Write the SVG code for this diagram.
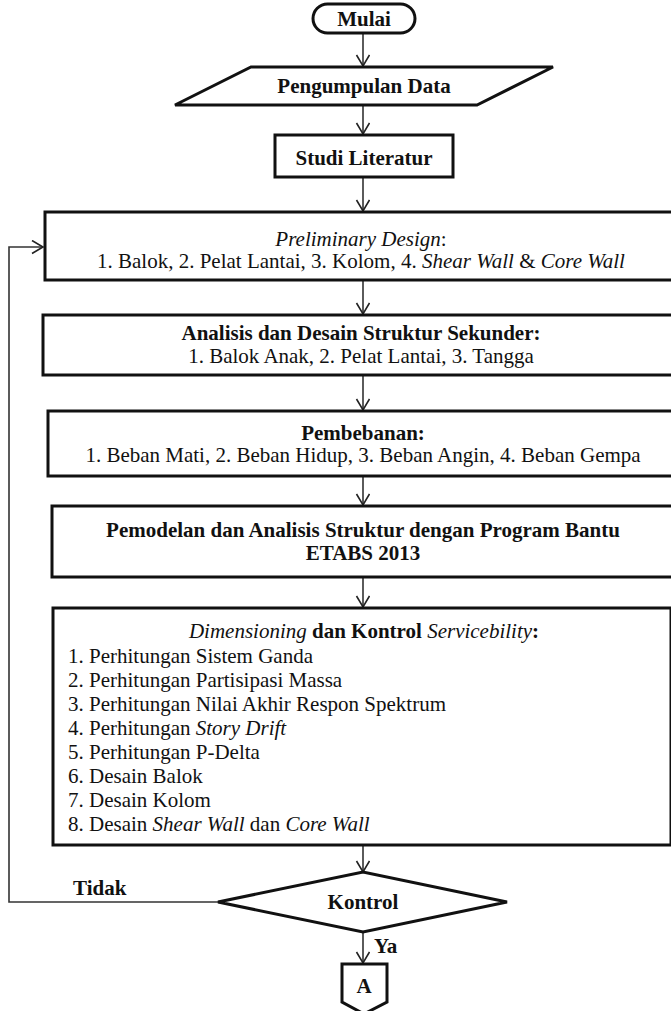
<svg xmlns="http://www.w3.org/2000/svg" width="671" height="1011" viewBox="0 0 671 1011">
<defs>
<marker id="arr" markerUnits="userSpaceOnUse" markerWidth="16" markerHeight="16" refX="12" refY="7" orient="auto">
<path d="M1,0.5 L12,7 L1,13.5" fill="none" stroke="#222" stroke-width="1.6"/>
</marker>
<style>
.shape{fill:#fff;stroke:#111;stroke-width:3}
.t{font-family:"Liberation Serif","Times New Roman",serif;font-size:21px;fill:#111}
.c{text-anchor:middle}
.b{font-weight:bold}
.i{font-style:italic}
.ln{fill:none;stroke:#333;stroke-width:1.6}
</style>
</defs>
<rect width="671" height="1011" fill="#fff"/>
<g id="connectors">
<line class="ln" x1="363" y1="34" x2="363" y2="66" marker-end="url(#arr)"/>
<line class="ln" x1="363" y1="106" x2="363" y2="134" marker-end="url(#arr)"/>
<line class="ln" x1="363" y1="178" x2="363" y2="211" marker-end="url(#arr)"/>
<line class="ln" x1="363" y1="281" x2="363" y2="314" marker-end="url(#arr)"/>
<line class="ln" x1="363" y1="376" x2="363" y2="410" marker-end="url(#arr)"/>
<line class="ln" x1="363" y1="477" x2="363" y2="505" marker-end="url(#arr)"/>
<line class="ln" x1="363" y1="578" x2="363" y2="607" marker-end="url(#arr)"/>
<line class="ln" x1="363" y1="846" x2="363" y2="872" marker-end="url(#arr)"/>
<line class="ln" x1="363" y1="932" x2="363" y2="963" marker-end="url(#arr)"/>
<polyline class="ln" points="218,902 9,902 9,247 43,247" marker-end="url(#arr)"/>
<text class="t b" x="73" y="895">Tidak</text>
<text class="t b" x="374" y="953">Ya</text>
</g>
<g id="mulai">
<rect class="shape" x="313" y="4" width="102" height="29" rx="14.5"/>
<text class="t b c" x="364" y="26">Mulai</text>
</g>
<g id="pengumpulan">
<polygon class="shape" points="251,67 553,67 477,105 175,105"/>
<text class="t b c" x="364" y="93">Pengumpulan Data</text>
</g>
<g id="studi">
<rect class="shape" x="275" y="135" width="178" height="42"/>
<text class="t b c" x="364" y="165">Studi Literatur</text>
</g>
<g id="preliminary">
<rect class="shape" x="45" y="212" width="640" height="68"/>
<text class="t c" x="361" y="246"><tspan class="i">Preliminary Design</tspan>:</text>
<text class="t c" x="361" y="268">1. Balok, 2. Pelat Lantai, 3. Kolom, 4. <tspan class="i">Shear Wall</tspan> &amp; <tspan class="i">Core Wall</tspan></text>
</g>
<g id="analisis">
<rect class="shape" x="43" y="315" width="640" height="60"/>
<text class="t b c" x="361" y="340">Analisis dan Desain Struktur Sekunder:</text>
<text class="t c" x="361" y="363">1. Balok Anak, 2. Pelat Lantai, 3. Tangga</text>
</g>
<g id="pembebanan">
<rect class="shape" x="48" y="411" width="640" height="65"/>
<text class="t b c" x="363" y="440">Pembebanan:</text>
<text class="t c" x="363" y="462">1. Beban Mati, 2. Beban Hidup, 3. Beban Angin, 4. Beban Gempa</text>
</g>
<g id="pemodelan">
<rect class="shape" x="52" y="506" width="640" height="71"/>
<text class="t b c" x="363" y="537">Pemodelan dan Analisis Struktur dengan Program Bantu</text>
<text class="t b c" x="363" y="560">ETABS 2013</text>
</g>
<g id="dimensioning">
<rect class="shape" x="53" y="608" width="618" height="237"/>
<text class="t c" x="364" y="638"><tspan class="i">Dimensioning</tspan><tspan class="b"> dan Kontrol </tspan><tspan class="i">Servicebility</tspan><tspan class="b">:</tspan></text>
<text class="t" x="68" y="663">1. Perhitungan Sistem Ganda</text>
<text class="t" x="68" y="687">2. Perhitungan Partisipasi Massa</text>
<text class="t" x="68" y="711">3. Perhitungan Nilai Akhir Respon Spektrum</text>
<text class="t" x="68" y="735">4. Perhitungan <tspan class="i">Story Drift</tspan></text>
<text class="t" x="68" y="759">5. Perhitungan P-Delta</text>
<text class="t" x="68" y="783">6. Desain Balok</text>
<text class="t" x="68" y="807">7. Desain Kolom</text>
<text class="t" x="68" y="831">8. Desain <tspan class="i">Shear Wall</tspan> dan <tspan class="i">Core Wall</tspan></text>
</g>
<g id="kontrol">
<polygon class="shape" points="218,902 363,872 507,902 363,932"/>
<text class="t b c" x="363" y="909">Kontrol</text>
</g>
<g id="connector-a">
<polygon class="shape" points="342,964 387,964 387,1002 364,1014 342,1002"/>
<text class="t b c" x="364" y="993">A</text>
</g>
</svg>
